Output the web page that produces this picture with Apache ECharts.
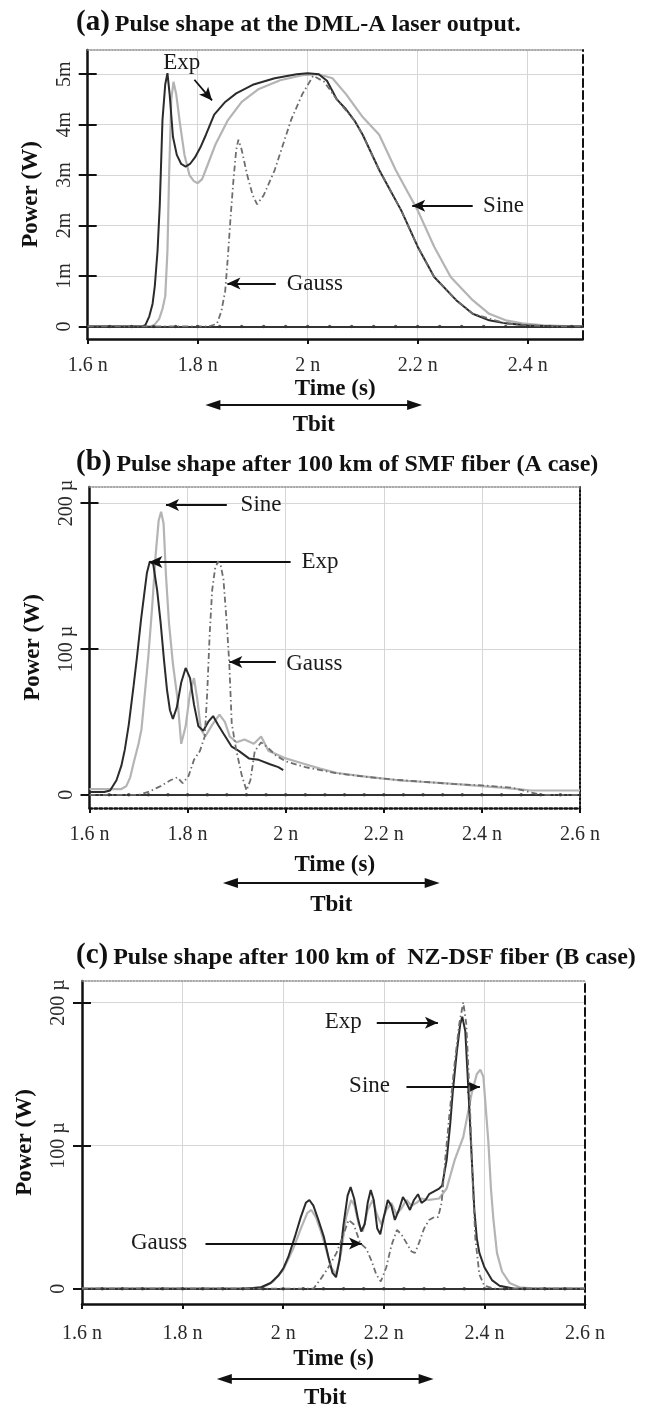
<!DOCTYPE html>
<html><head><meta charset="utf-8">
<script src="https://cdn.jsdelivr.net/npm/echarts@6/dist/echarts.min.js"></script>
<style>html,body{margin:0;padding:0;background:#fff}#c{width:660px;height:1408px}</style>
</head><body><div id="c"></div>
<script>
// ---------- tick labels ----------
const xTickValues = [1.6, 1.8, 2.0, 2.2, 2.4, 2.6];
const xTickLabels = ['1.6 n', '1.8 n', '2 n', '2.2 n', '2.4 n', '2.6 n'];
const yTickValuesA = [0, 1, 2, 3, 4, 5];
const yTickLabelsA = ['0', '1m', '2m', '3m', '4m', '5m'];
const yTickValuesBC = [0, 100, 200];
const yTickLabelsBC = ['0', '100 µ', '200 µ'];
const titles = [
  ['(a)', 'Pulse shape at the DML-A laser output.'],
  ['(b)', 'Pulse shape after 100 km of SMF fiber (A case)'],
  ['(c)', 'Pulse shape after 100 km of  NZ-DSF fiber (B case)']
];
const seriesNames = ['Sine', 'Exp', 'Gauss'];

// ---------- panel (a): time in ns, power in mW ----------
const aExpT = [1.60,1.70,1.705,1.712,1.718,1.722,1.727,1.731,1.736,1.741,1.745,1.749,1.755,1.762,1.770,1.778,1.786,1.795,1.805,1.815,1.830,1.850,1.870,1.900,1.940,1.980,2.000,2.020,2.035,2.053,2.070,2.085,2.100,2.130,2.150,2.170,2.200,2.230,2.270,2.300,2.330,2.360,2.400,2.450,2.500];
const aExpP = [0,0,0.03,0.2,0.45,0.8,1.5,2.4,4.1,4.8,5.02,4.6,3.76,3.4,3.22,3.17,3.22,3.35,3.55,3.8,4.2,4.45,4.62,4.79,4.92,5.0,5.02,5.0,4.87,4.5,4.3,4.08,3.8,3.1,2.7,2.3,1.58,0.98,0.52,0.25,0.12,0.06,0.02,0,0];
const aSineT = [1.60,1.715,1.722,1.73,1.736,1.741,1.745,1.748,1.752,1.756,1.761,1.768,1.776,1.785,1.793,1.800,1.808,1.818,1.832,1.855,1.880,1.910,1.950,1.990,2.020,2.045,2.070,2.100,2.130,2.160,2.180,2.200,2.230,2.260,2.300,2.330,2.360,2.390,2.430,2.480,2.500];
const aSineP = [0,0,0.04,0.15,0.35,0.6,1.5,3.0,4.5,4.85,4.6,4.0,3.4,3.0,2.88,2.84,2.92,3.2,3.6,4.09,4.45,4.7,4.88,4.98,5.0,4.92,4.6,4.15,3.8,3.1,2.7,2.3,1.58,0.98,0.52,0.25,0.12,0.06,0.02,0,0];
const aGaussT = [1.60,1.820,1.835,1.843,1.850,1.855,1.860,1.865,1.870,1.874,1.880,1.890,1.900,1.908,1.920,1.940,1.955,1.970,1.990,2.010,2.030,2.053,2.085,2.100,2.130,2.170,2.200,2.230,2.270,2.300,2.360,2.400,2.450,2.500];
const aGaussP = [0,0,0.05,0.3,0.7,1.4,2.2,2.9,3.5,3.7,3.5,3.0,2.6,2.42,2.6,3.1,3.6,4.1,4.6,4.97,4.85,4.5,4.08,3.8,3.1,2.3,1.58,0.98,0.52,0.25,0.06,0.02,0,0];

// ---------- panel (b): time in ns, power in µW ----------
const bExpT = [1.60,1.630,1.642,1.655,1.665,1.672,1.680,1.690,1.697,1.705,1.711,1.717,1.723,1.730,1.738,1.745,1.752,1.758,1.764,1.770,1.778,1.787,1.796,1.805,1.813,1.822,1.832,1.842,1.852,1.862,1.873,1.890,1.905,1.925,1.945,1.968,1.985,1.995];
const bExpP = [2,2,3,10,20,31,48,75,95,120,136,152,160,158,140,118,92,72,58,52,60,77,87,80,62,47,44,50,54,48,42,33,30,25,24,21,19,17];
const bSineT = [1.60,1.665,1.675,1.683,1.690,1.700,1.706,1.713,1.720,1.728,1.735,1.741,1.746,1.751,1.756,1.762,1.770,1.779,1.787,1.796,1.805,1.813,1.820,1.827,1.836,1.850,1.865,1.876,1.886,1.900,1.916,1.935,1.950,1.965,1.980,2.000,2.030,2.070,2.105,2.150,2.190,2.230,2.276,2.320,2.362,2.400,2.440,2.474,2.500,2.600];
const bSineP = [4,4,6,12,22,35,45,70,95,130,165,188,194,186,150,118,90,67,35,47,70,80,65,45,40,48,55,50,40,36,38,35,40,30,28,25,22,18,15,13,11.5,10,9,8,7,6,5,4,3,3];
const bGaussT = [1.60,1.700,1.720,1.745,1.765,1.779,1.790,1.802,1.813,1.825,1.835,1.840,1.845,1.850,1.856,1.862,1.867,1.873,1.880,1.885,1.890,1.899,1.910,1.920,1.928,1.937,1.950,1.965,1.980,2.000,2.040,2.100,2.160,2.220,2.280,2.340,2.400,2.460,2.520,2.600];
const bGaussP = [0,0,2,6,10,12,8,13,24,30,40,70,110,140,155,160,158,148,117,90,49,31,14,3,10,30,36,32,27,23,19,15,12.5,10.5,9,7.5,6.5,5,0,0];

// ---------- panel (c): time in ns, power in µW ----------
const cExpT = [1.60,1.920,1.940,1.956,1.975,1.990,2.000,2.010,2.023,2.035,2.045,2.052,2.060,2.070,2.081,2.090,2.098,2.105,2.112,2.120,2.128,2.134,2.141,2.148,2.155,2.162,2.168,2.174,2.180,2.187,2.193,2.200,2.208,2.215,2.222,2.230,2.238,2.245,2.252,2.260,2.268,2.275,2.283,2.290,2.300,2.310,2.316,2.325,2.332,2.337,2.345,2.352,2.356,2.362,2.368,2.375,2.380,2.385,2.390,2.400,2.415,2.430,2.460,2.600];
const cExpP = [0,0,0.5,1,4,9,14,22,36,50,60,62,58,48,36,22,11,8,20,45,65,71,63,50,40,45,60,69,62,42,38,50,62,58,48,55,64,60,55,62,66,60,62,66,68,70,72,90,115,137,165,185,190,180,140,90,55,35,25,15,6,2,0,0];
const cSineT = [1.60,1.930,1.960,1.980,2.000,2.020,2.035,2.048,2.056,2.065,2.075,2.085,2.095,2.105,2.115,2.125,2.135,2.142,2.150,2.158,2.168,2.178,2.186,2.195,2.205,2.215,2.225,2.235,2.245,2.255,2.265,2.275,2.290,2.310,2.325,2.341,2.358,2.375,2.385,2.392,2.398,2.403,2.408,2.413,2.418,2.425,2.435,2.450,2.470,2.500,2.600];
const cSineP = [0,0,1,5,13,28,42,53,55,50,40,28,15,10,25,50,62,58,45,40,55,62,52,45,55,60,52,56,62,58,60,63,62,63,70,90,106,137,150,153,148,125,102,70,48,25,12,4,1,0,0];
const cGaussT = [1.60,2.060,2.073,2.090,2.106,2.120,2.130,2.140,2.153,2.165,2.175,2.185,2.194,2.205,2.215,2.226,2.235,2.245,2.255,2.262,2.270,2.280,2.290,2.300,2.308,2.315,2.322,2.330,2.340,2.350,2.358,2.364,2.370,2.376,2.382,2.390,2.400,2.420,2.600];
const cGaussP = [0,0,6,15,25,38,48,45,32,28,20,10,5,15,30,41,38,32,26,25,32,42,48,50,50,60,90,120,155,185,200,185,140,80,35,10,2,0,0];

// markers drawn on the zero level (every 0.04 ns)
const zeroDotsA = [1.64,1.68,1.72,1.76,1.80,1.84,1.88,1.92,1.96,2.00,2.04,2.08,2.12,2.16,2.20,2.24,2.28,2.32,2.36,2.40,2.44,2.48];
const zeroDotsBC = [1.64,1.68,1.72,1.76,1.80,1.84,1.88,1.92,1.96,2.00,2.04,2.08,2.12,2.16,2.20,2.24,2.28,2.32,2.36,2.40,2.44,2.48,2.52,2.56];

// annotations: label anchor, arrow tail, arrow head (data coordinates)
const annA = [
  {text:'Exp',   at:[1.771,5.22], center:true, from:[1.794,4.89], to:[1.826,4.48]},
  {text:'Sine',  at:[2.318,2.39], from:[2.300,2.39], to:[2.190,2.39]},
  {text:'Gauss', at:[1.961,0.85], from:[1.942,0.85], to:[1.854,0.85]}
];
const annB = [
  {text:'Sine',  at:[1.907,198.6], from:[1.880,198.6], to:[1.756,198.6]},
  {text:'Exp',   at:[2.031,159.6], from:[2.010,159.6], to:[1.722,159.6]},
  {text:'Gauss', at:[2.000,90],    from:[1.980,91],    to:[1.885,91]}
];
const annC = [
  {text:'Exp',   at:[2.0815,186.7], from:[2.186,185.8], to:[2.3076,185.8]},
  {text:'Sine',  at:[2.130,141.7],  from:[2.245,141],   to:[2.391,141]},
  {text:'Gauss', at:[1.6964,32.2],  from:[1.8455,31.5], to:[2.1567,31.5]}
];
const tbitRanges = [[1.814, 2.208], [1.872, 2.314], [1.868, 2.299]];

// ---------- layout / style (not data) ----------
const FONT = "'Liberation Serif', 'Times New Roman', serif";
const layout = [
  {grid:{left:87.7, top:50,  width:495,   height:289}, xMax:2.5, yMin:-0.25, yMax:5.48, labelMargin:17, nameGap:39, bottomType:'solid',  rightType:'dashed', titleTop:7,   tbitY:405,  tbitTextY:425},
  {grid:{left:89.5, top:487, width:490.5, height:321}, xMax:2.6, yMin:-9,    yMax:211,  labelMargin:17, nameGap:46, bottomType:'dotted', rightType:'dotted', titleTop:447, tbitY:883,  tbitTextY:905},
  {grid:{left:82,   top:981, width:503,   height:323}, xMax:2.6, yMin:-10.7, yMax:215,  labelMargin:20, nameGap:44, bottomType:'solid',  rightType:'dashed', titleTop:940, tbitY:1379, tbitTextY:1398}
];
const panelData = [
  {sine:[aSineT,aSineP], exp:[aExpT,aExpP], gauss:[aGaussT,aGaussP], dots:zeroDotsA,  yT:yTickValuesA,  yL:yTickLabelsA,  ann:annA},
  {sine:[bSineT,bSineP], exp:[bExpT,bExpP], gauss:[bGaussT,bGaussP], dots:zeroDotsBC, yT:yTickValuesBC, yL:yTickLabelsBC, ann:annB},
  {sine:[cSineT,cSineP], exp:[cExpT,cExpP], gauss:[cGaussT,cGaussP], dots:zeroDotsBC, yT:yTickValuesBC, yL:yTickLabelsBC, ann:annC}
];

const zip = (t, p) => t.map((v, i) => [v, p[i]]);
const lookup = (vals, labels) => v => {
  const i = vals.findIndex(x => Math.abs(x - v) < 1e-6);
  return i >= 0 ? labels[i] : '';
};

const grids = [], xAxes = [], yAxes = [], series = [], titleCmp = [];
layout.forEach((L, i) => {
  const D = panelData[i];
  grids.push(Object.assign({containLabel:false}, L.grid));
  const xT = xTickValues.filter(v => v <= L.xMax + 1e-9);
  titleCmp.push({
    text: '{p|' + titles[i][0] + '} {t|' + titles[i][1] + '}',
    left: 76, top: L.titleTop, padding: 0,
    textStyle: {rich: {
      p: {fontFamily: FONT, fontWeight: 'bold', fontSize: 29, color: '#111', verticalAlign: 'bottom', lineHeight: 30},
      t: {fontFamily: FONT, fontWeight: 'bold', fontSize: 24, color: '#111', verticalAlign: 'bottom', lineHeight: 28}
    }}
  });
  xAxes.push({
    gridIndex: i, type: 'value', min: 1.6, max: L.xMax, position: 'bottom',
    axisLine: {show: true, onZero: false, lineStyle: {color: '#111', width: 2.5, type: L.bottomType}},
    axisTick: {show: true, customValues: xT, length: 5, lineStyle: {color: '#111', width: 2}},
    axisLabel: {customValues: xT, formatter: lookup(xTickValues, xTickLabels), margin: L.labelMargin,
      fontFamily: FONT, fontSize: 20, color: '#2a2a2a'},
    splitLine: {show: true, lineStyle: {color: '#d6d6d6', width: 1}},
    name: 'Time (s)', nameLocation: 'middle', nameGap: L.nameGap,
    nameTextStyle: {fontFamily: FONT, fontSize: 23, fontWeight: 'bold', color: '#111'}
  });
  xAxes.push({
    gridIndex: i, type: 'value', min: 1.6, max: L.xMax, position: 'top',
    axisLine: {show: true, onZero: false, lineStyle: {color: '#8a8a8a', width: 1.5, type: 'dotted'}},
    axisTick: {show: false}, axisLabel: {show: false}, splitLine: {show: false}
  });
  yAxes.push({
    gridIndex: i, type: 'value', min: L.yMin, max: L.yMax, position: 'left',
    axisLine: {show: true, onZero: false, lineStyle: {color: '#111', width: 2.5}},
    axisTick: {show: true, customValues: D.yT, length: 9, lineStyle: {color: '#111', width: 2}},
    axisLabel: {customValues: D.yT, formatter: lookup(D.yT, D.yL), rotate: 90, margin: 13,
      fontFamily: FONT, fontSize: 20, color: '#2a2a2a'},
    splitLine: {show: true, lineStyle: {color: '#d6d6d6', width: 1}},
    name: 'Power (W)', nameLocation: 'middle', nameGap: 45,
    nameTextStyle: {fontFamily: FONT, fontSize: 23, fontWeight: 'bold', color: '#111'}
  });
  yAxes.push({
    gridIndex: i, type: 'value', min: L.yMin, max: L.yMax, position: 'left',
    axisLine: {show: false},
    axisTick: {show: true, inside: true, customValues: D.yT, length: 9, lineStyle: {color: '#111', width: 2}},
    axisLabel: {show: false}, splitLine: {show: false}
  });
  yAxes.push({
    gridIndex: i, type: 'value', min: L.yMin, max: L.yMax, position: 'right',
    axisLine: {show: true, onZero: false, lineStyle: {color: '#111', width: 2, type: L.rightType}},
    axisTick: {show: false}, axisLabel: {show: false}, splitLine: {show: false}
  });
  const xi = 2 * i, yi = 3 * i;
  const styles = {
    sine:  {color: '#b4b4b4', width: 2.2, type: 'solid'},
    exp:   {color: '#2b2b2b', width: 2,   type: 'solid'},
    gauss: {color: '#6e6e6e', width: 1.8, type: [6, 3, 1.5, 3]}
  };
  ['sine', 'exp', 'gauss'].forEach((k, j) => {
    series.push({
      name: seriesNames[j], type: 'line', xAxisIndex: xi, yAxisIndex: yi,
      data: zip(D[k][0], D[k][1]), showSymbol: false, smooth: false,
      lineStyle: styles[k], itemStyle: {color: styles[k].color}, z: 3 + j
    });
  });
  // zero level with dots + annotation arrows and labels
  const arrowLines = D.ann.map(a => [
    {coord: a.from, symbol: 'none'},
    {coord: a.to, symbol: 'arrow', symbolSize: [9, 13]}
  ]);
  series.push({
    name: 'zero', type: 'scatter', xAxisIndex: xi, yAxisIndex: yi,
    data: D.dots.map(t => [t, 0]), symbol: 'circle', symbolSize: 3.5,
    itemStyle: {color: '#333'}, z: 8, silent: true,
    markLine: {
      silent: true, animation: false, symbol: ['none', 'none'],
      label: {show: false},
      lineStyle: {color: '#111', width: 1.8, type: 'solid'},
      data: [[{coord: [1.6, 0], symbol: 'none', lineStyle: {color: '#333', width: 2}},
              {coord: [L.xMax, 0], symbol: 'none'}]].concat(arrowLines)
    },
    markPoint: {
      silent: true, animation: false,
      data: D.ann.map(a => ({
        coord: a.at, symbol: 'circle', symbolSize: 1, itemStyle: {color: 'rgba(0,0,0,0)'},
        label: {show: true, formatter: a.text, position: a.center ? 'inside' : 'right', distance: 0,
          fontFamily: FONT, fontSize: 23, color: '#1a1a1a', verticalAlign: 'middle'}
      }))
    }
  });
});

const chart = echarts.init(document.getElementById('c'), null, {renderer: 'canvas', width: 660, height: 1408});
chart.setOption({
  backgroundColor: '#fff',
  animation: false,
  title: titleCmp,
  grid: grids, xAxis: xAxes, yAxis: yAxes, series: series
});

// Tbit double arrows below each panel
const graphics = [];
layout.forEach((L, i) => {
  const x1 = chart.convertToPixel({gridIndex: i}, [tbitRanges[i][0], 0])[0];
  const x2 = chart.convertToPixel({gridIndex: i}, [tbitRanges[i][1], 0])[0];
  const y = L.tbitY;
  graphics.push({type: 'line', shape: {x1: x1 + 10, y1: y, x2: x2 - 10, y2: y}, style: {stroke: '#111', lineWidth: 2}});
  graphics.push({type: 'polygon', shape: {points: [[x1, y], [x1 + 15, y - 5], [x1 + 15, y + 5]]}, style: {fill: '#111'}});
  graphics.push({type: 'polygon', shape: {points: [[x2, y], [x2 - 15, y - 5], [x2 - 15, y + 5]]}, style: {fill: '#111'}});
  graphics.push({type: 'text', style: {text: 'Tbit', x: (x1 + x2) / 2, y: L.tbitTextY, align: 'center', verticalAlign: 'middle',
    textAlign: 'center', textVerticalAlign: 'middle', font: 'bold 23px ' + FONT, fill: '#111'}});
});
chart.setOption({graphic: graphics});
</script></body></html>
